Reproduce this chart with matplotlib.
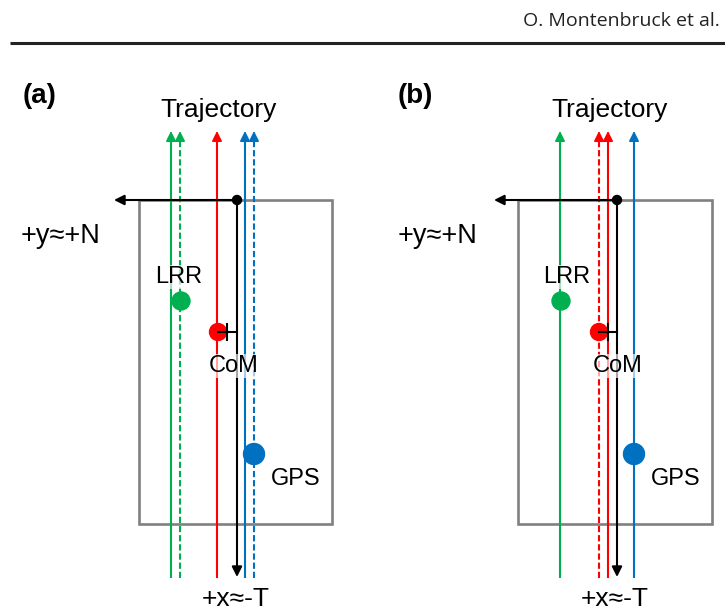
import matplotlib.pyplot as plt
from matplotlib.patches import Rectangle, Circle

plt.rcParams['font.family'] = ['Liberation Sans', 'DejaVu Sans']

GREEN = '#00b050'
RED = '#ff0000'
BLUE = '#0070c0'
GRAY = '#808080'

# trajectory lines per panel: x position, colour, dashed?
traj_x = [[171, 180, 217, 245, 254], [560, 599, 608, 634]]
traj_col = [[GREEN, GREEN, RED, BLUE, BLUE], [GREEN, RED, RED, BLUE]]
traj_dash = [[False, True, False, False, True], [False, True, False, False]]

# black body frame axes: origin x, box left/right
origin_x = [237, 617]
box_left = [139, 518]
box_right = [332, 712]
box_top, box_bottom = 200, 524
traj_top, traj_bottom = 131, 578
y_arrow_end = [114, 494]

# antenna/reflector/centre of mass points
lrr_pt = [(181, 301), (561, 301)]
com_pt = [(218, 332), (599, 332)]
gps_pt = [(254, 454), (634, 454)]

panel_lbl = ['(a)', '(b)']
panel_lbl_x = [23, 398]
traj_lbl_x = [219, 610]
lrr_lbl_x = [179, 567]
com_lbl_x = [234, 618]
gps_lbl_x = [296, 676]
xax_lbl_x = [236, 615]
yax_lbl_x = [21, 398]

fig = plt.figure(figsize=(7.25, 6.14), dpi=100)
ax = fig.add_axes([0, 0, 1, 1])
ax.set_xlim(0, 725)
ax.set_ylim(614, 0)
ax.axis('off')

# header
ax.text(720, 26, 'O. Montenbruck et al.', ha='right', va='baseline',
        fontsize=14, family=['Open Sans', 'DejaVu Sans'], color='#222222')
ax.plot([10, 725], [43, 43], color='#222222', lw=2.2, solid_capstyle='butt')

head = dict(color='black', lw=1.5, mutation_scale=15, shrinkA=0, shrinkB=0,
            arrowstyle='-|>')

for p in range(2):
    # spacecraft body
    ax.add_patch(Rectangle((box_left[p], box_top), box_right[p] - box_left[p],
                           box_bottom - box_top, fill=False, edgecolor=GRAY,
                           lw=1.9, zorder=1))

    # trajectory lines
    for x, c, d in zip(traj_x[p], traj_col[p], traj_dash[p]):
        ls = (0, (3, 1.4)) if d else '-'
        ax.plot([x, x], [traj_bottom, traj_top + 6], color=c, lw=1.5,
                linestyle=ls, zorder=2, solid_capstyle='butt')
        ax.annotate('', xy=(x, traj_top), xytext=(x, traj_top + 9),
                    arrowprops=dict(head, color=c, lw=1.2), zorder=3)

    # body axes
    ox = origin_x[p]
    ax.annotate('', xy=(y_arrow_end[p], box_top), xytext=(ox, box_top),
                arrowprops=head, zorder=3)
    ax.annotate('', xy=(ox, traj_bottom - 1), xytext=(ox, box_top),
                arrowprops=head, zorder=3)
    ax.add_patch(Circle((ox, box_top), 4.5, color='black', zorder=4))

    # points
    ax.add_patch(Circle(lrr_pt[p], 9, color=GREEN, zorder=4))
    ax.add_patch(Circle(com_pt[p], 8.5, color=RED, zorder=4))
    ax.add_patch(Circle(gps_pt[p], 10.5, color=BLUE, zorder=4))

    # CoM offset marker
    cx, cy = com_pt[p]
    ax.plot([cx, ox], [cy, cy], color='black', lw=1.5, zorder=5)
    ax.plot([cx + 9.5, cx + 9.5], [cy - 8, cy + 8], color='black', lw=1.5, zorder=5)

    # labels
    wbox = dict(facecolor='white', alpha=0.65, edgecolor='none', pad=1)
    ax.text(panel_lbl_x[p], 103, panel_lbl[p], fontsize=20, fontweight='bold',
            ha='left', va='baseline')
    ax.text(traj_lbl_x[p], 117, 'Trajectory', fontsize=19, ha='center',
            va='baseline')
    ax.text(yax_lbl_x[p], 243, '+y\u2248+N', fontsize=19.5, ha='left',
            va='baseline')
    ax.text(lrr_lbl_x[p], 283, 'LRR', fontsize=17, ha='center', va='baseline',
            bbox=wbox, zorder=6)
    ax.text(com_lbl_x[p], 372, 'CoM', fontsize=17, ha='center', va='baseline',
            bbox=wbox, zorder=6)
    ax.text(gps_lbl_x[p], 485, 'GPS', fontsize=17, ha='center', va='baseline',
            zorder=6)
    ax.text(xax_lbl_x[p], 606, '+x\u2248-T', fontsize=19, ha='center',
            va='baseline')

fig.savefig('out.png', dpi=100)
